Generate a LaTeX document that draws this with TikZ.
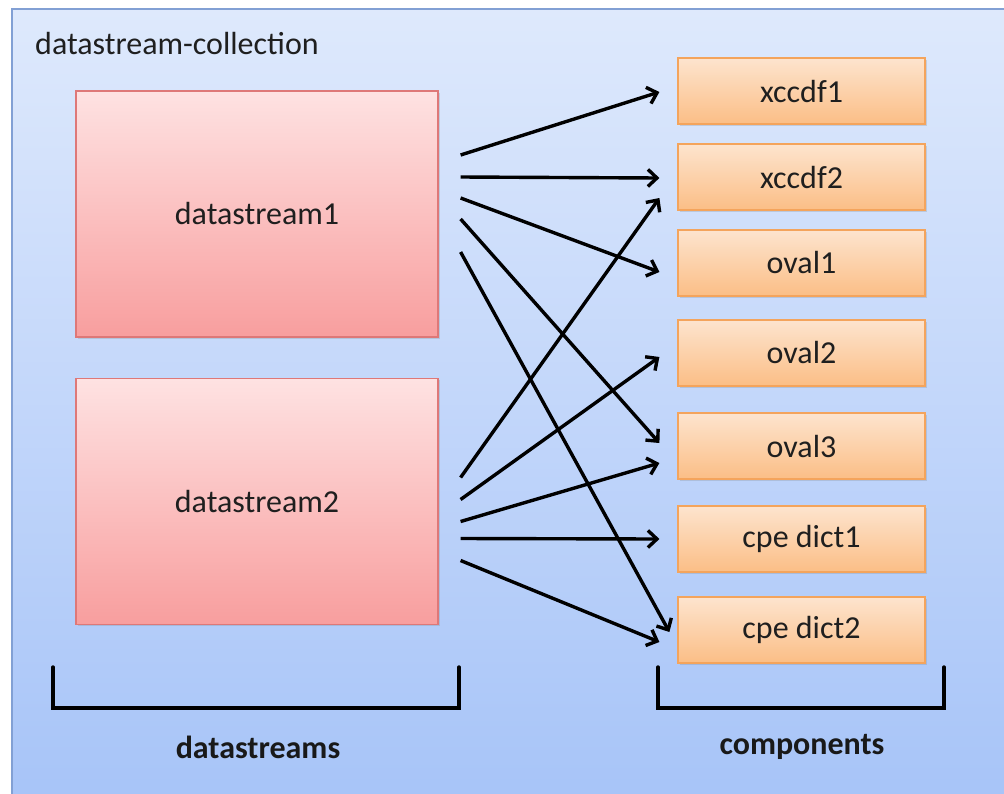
\documentclass[tikz,border=0pt]{standalone}
\usepackage{fontspec}
\setmainfont{Carlito}
\usetikzlibrary{arrows.meta,calc,shadows}
\definecolor{bgtop}{RGB}{222,233,252}
\definecolor{bgbot}{RGB}{167,196,248}
\definecolor{bgedge}{RGB}{130,160,212}
\definecolor{pinktop}{RGB}{254,226,226}
\definecolor{pinkbot}{RGB}{248,158,158}
\definecolor{pinkedge}{RGB}{222,120,120}
\definecolor{ortop}{RGB}{253,228,206}
\definecolor{orbot}{RGB}{251,190,134}
\definecolor{oredge}{RGB}{244,164,92}
\tikzset{
  dsbox/.style={draw=pinkedge, line width=1.2pt, top color=pinktop, bottom color=pinkbot,
    minimum width=362pt, minimum height=246pt, inner sep=0pt,
    drop shadow={shadow xshift=1.5pt, shadow yshift=-1.5pt, opacity=0.25},
    font=\fontsize{32}{37}\selectfont, text=black!88},
  comp/.style={draw=oredge, line width=1.2pt, top color=ortop, bottom color=orbot,
    minimum width=247pt, minimum height=66pt, inner sep=0pt,
    drop shadow={shadow xshift=1.5pt, shadow yshift=-1.5pt, opacity=0.25},
    font=\fontsize{32}{37}\selectfont, text=black!88},
  arr/.style={line width=3.4pt, -{Straight Barb[length=9pt,width=17pt]}, black},
  bracket/.style={line width=3.4pt, black, line cap=round},
  lbl/.style={font=\bfseries\fontsize{32}{37}\selectfont, text=black!90},
}
\begin{document}
\begin{tikzpicture}[x=1pt,y=-1pt]
\useasboundingbox (0,0) rectangle (1004,793);
\clip (0,0) rectangle (1004,793);
\fill[white] (0,0) rectangle (1004,793);
\draw[bgedge, line width=1.5pt, top color=bgtop, bottom color=bgbot] (12,9) rectangle (1012,800);
\node[anchor=west, font=\fontsize{32}{37}\selectfont, text=black!88, inner sep=0pt] (title) at (35,44) {datastream-collection};

\node[dsbox] (ds1) at (257,214) {datastream1};
\node[dsbox] (ds2) at (257,501.5) {datastream2};

\node[comp] (xccdf1) at (801.5,91) {xccdf1};
\node[comp] (xccdf2) at (801.5,177) {xccdf2};
\node[comp] (oval1) at (801.5,263) {oval1};
\node[comp] (oval2) at (801.5,353) {oval2};
\node[comp] (oval3) at (801.5,446) {oval3};
\node[comp] (cpe1) at (801.5,539) {cpe dict1};
\node[comp] (cpe2) at (801.5,630) {cpe dict2};

% arrows from datastream1
\draw[arr] ($(ds1.east)+(22,-59)$) -- ($(xccdf1.west)+(-18,1)$);
\draw[arr] ($(ds1.east)+(22,-37)$) -- ($(xccdf2.west)+(-18,1)$);
\draw[arr] ($(ds1.east)+(22,-16)$) -- ($(oval1.west)+(-18,9)$);
\draw[arr] ($(ds1.east)+(22,5)$) -- ($(oval3.west)+(-18,-3)$);
\draw[arr] ($(ds1.east)+(22,38)$) -- ($(cpe2.west)+(-8,2)$);
% arrows from datastream2
\draw[arr] ($(ds2.east)+(22,-24)$) -- ($(xccdf2.west)+(-18,21)$);
\draw[arr] ($(ds2.east)+(22,-2)$) -- ($(oval2.west)+(-18,4)$);
\draw[arr] ($(ds2.east)+(22,20)$) -- ($(oval3.west)+(-18,17)$);
\draw[arr] ($(ds2.east)+(22,37)$) -- ($(cpe1.west)+(-18,0)$);
\draw[arr] ($(ds2.east)+(22,59)$) -- ($(cpe2.west)+(-18,12)$);

% brackets
\draw[bracket] (53,667) |- (459,708) -- (459,667);
\draw[bracket] (658,667) |- (944,708) -- (944,667);
\node[lbl] (lds) at (258,747) {datastreams};
\node[lbl] (lcomp) at (802,747) {components};
\end{tikzpicture}
\end{document}
